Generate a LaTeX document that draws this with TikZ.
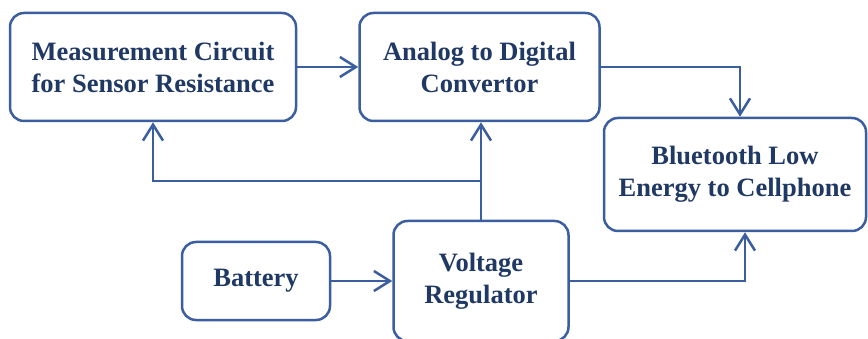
\documentclass[tikz,border=0pt]{standalone}
\usepackage{fontspec}
\setmainfont{Liberation Serif}
\usepackage{xcolor}
\usetikzlibrary{arrows.meta, positioning}
\definecolor{boxline}{HTML}{3A5EA0}
\definecolor{boxtext}{HTML}{1F3864}
\tikzset{
  block/.style={rectangle, draw=boxline, line width=2.5pt, rounded corners=14pt, align=center, text=boxtext,
    font=\fontsize{26.5}{32}\selectfont\bfseries, inner sep=2pt},
  link/.style={draw=boxline, line width=2.5pt, -{Straight Barb[length=16pt, width=20pt]}}
}

\begin{document}
\begin{tikzpicture}[x=1pt, y=-1pt]
    \useasboundingbox (0,0) rectangle (868,339);
    \clip (0,0) rectangle (868,339);
    \node[block, minimum width=286pt, minimum height=108pt] (meas) at (153,67) {Measurement Circuit\\for Sensor Resistance};
    \node[block, minimum width=240pt, minimum height=108pt, right=61pt of meas] (adc) {Analog to Digital\\Convertor};
    \node[block, minimum width=262pt, minimum height=113pt] (ble) at (735,174.5) {Bluetooth Low\\Energy to Cellphone};
    \node[block, minimum width=148pt, minimum height=78pt] (bat) at (256,281) {Battery};
    \node[block, minimum width=175pt, minimum height=120pt, right=61pt of bat] (vreg) {Voltage\\Regulator};
    \coordinate (split) at (vreg.north |- 0,181);
    \draw[link] (meas) -- (adc);
    \draw[link] (adc.east) -| ([xshift=5pt]ble.north);
    \draw[link] (bat) -- (vreg);
    \draw[link] (vreg.east) -| ([xshift=10pt]ble.south);
    \draw[link] (vreg.north) -- (adc.south -| vreg.north);
    \draw[link] (split) -| (meas.south);
  \end{tikzpicture}
\end{document}
